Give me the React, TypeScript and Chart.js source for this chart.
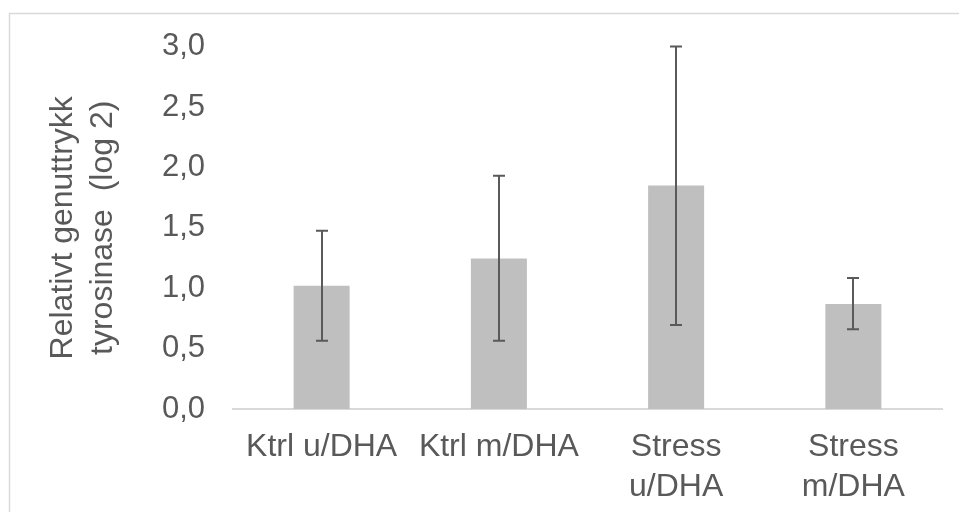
import React, { useEffect, useRef } from "react";
import { Chart, registerables } from "chart.js";

Chart.register(...registerables);

const categories: (string | string[])[] = [
  "Ktrl u/DHA",
  "Ktrl m/DHA",
  ["Stress", "u/DHA"],
  ["Stress", "m/DHA"],
];
const values = [1.02, 1.245, 1.85, 0.87];
const errHigh = [1.475, 1.93, 3.0, 1.085];
const errLow = [0.565, 0.565, 0.695, 0.66];
const yTickLabels = ["0,0", "0,5", "1,0", "1,5", "2,0", "2,5", "3,0"];
const yTitle = ["Relativt genuttrykk", "tyrosinase  (log 2)"];

const FONT = "'Liberation Sans', Arial, sans-serif";
const TEXT = "#595959";

const errorBarPlugin = {
  id: "errorBars",
  afterDatasetsDraw(chart: any) {
    const meta = chart.getDatasetMeta(0);
    const y = chart.scales.y;
    const ctx = chart.ctx;
    ctx.save();
    ctx.strokeStyle = "#5a5a5a";
    ctx.lineWidth = 2;
    meta.data.forEach((bar: any, i: number) => {
      const x = Math.round(bar.x);
      const yt = y.getPixelForValue(errHigh[i]);
      const yb = y.getPixelForValue(errLow[i]);
      ctx.beginPath();
      ctx.moveTo(x, yt);
      ctx.lineTo(x, yb);
      ctx.moveTo(x - 6, yt);
      ctx.lineTo(x + 6, yt);
      ctx.moveTo(x - 6, yb);
      ctx.lineTo(x + 6, yb);
      ctx.stroke();
    });
    ctx.restore();
  },
};

const framePlugin = {
  id: "frame",
  afterDraw(chart: any) {
    const ctx = chart.ctx;
    ctx.save();
    ctx.strokeStyle = "#d9d9d9";
    ctx.lineWidth = 1.5;
    ctx.strokeRect(9.5, 13.5, chart.width + 20, chart.height + 20);
    ctx.restore();
  },
};

export default function App() {
  const ref = useRef<HTMLCanvasElement>(null);
  useEffect(() => {
    if (!ref.current) return;
    const chart = new Chart(ref.current, {
      type: "bar",
      data: {
        labels: categories as any,
        datasets: [
          {
            data: values,
            backgroundColor: "#bfbfbf",
            borderWidth: 0,
            barPercentage: 0.316,
            categoryPercentage: 1,
          },
        ],
      },
      options: {
        animation: false,
        responsive: false,
        layout: { padding: { top: 45, right: 17, left: 0, bottom: 0 } },
        plugins: {
          legend: { display: false },
          tooltip: { enabled: false },
        },
        scales: {
          x: {
            grid: { display: false, drawTicks: false },
            border: { display: true, color: "#d9d9d9", width: 2 },
            ticks: {
              color: TEXT,
              font: { family: FONT, size: 32, lineHeight: 40 / 32 },
              padding: 18,
              maxRotation: 0,
              autoSkip: false,
            },
            afterFit: (s: any) => {
              s.height = 103;
            },
          },
          y: {
            min: 0,
            max: 3,
            grid: { display: false, drawTicks: false },
            border: { display: false },
            ticks: {
              stepSize: 0.5,
              color: TEXT,
              font: { family: FONT, size: 31 },
              padding: 28,
              callback: (_v: any, i: number) => yTickLabels[i],
            },
            title: {
              display: true,
              text: yTitle,
              color: TEXT,
              font: { family: FONT, size: 32, lineHeight: 40 / 32 },
              padding: { top: 43, bottom: 0 },
            },
            afterFit: (s: any) => {
              s.width = 233;
            },
          },
        },
      },
      plugins: [errorBarPlugin, framePlugin],
    });
    return () => chart.destroy();
  }, []);
  return (
    <div style={{ position: "absolute", left: 0, top: 0, width: 959, height: 512, background: "#fff" }}>
      <canvas ref={ref} width={959} height={512} style={{ display: "block" }} />
    </div>
  );
}
